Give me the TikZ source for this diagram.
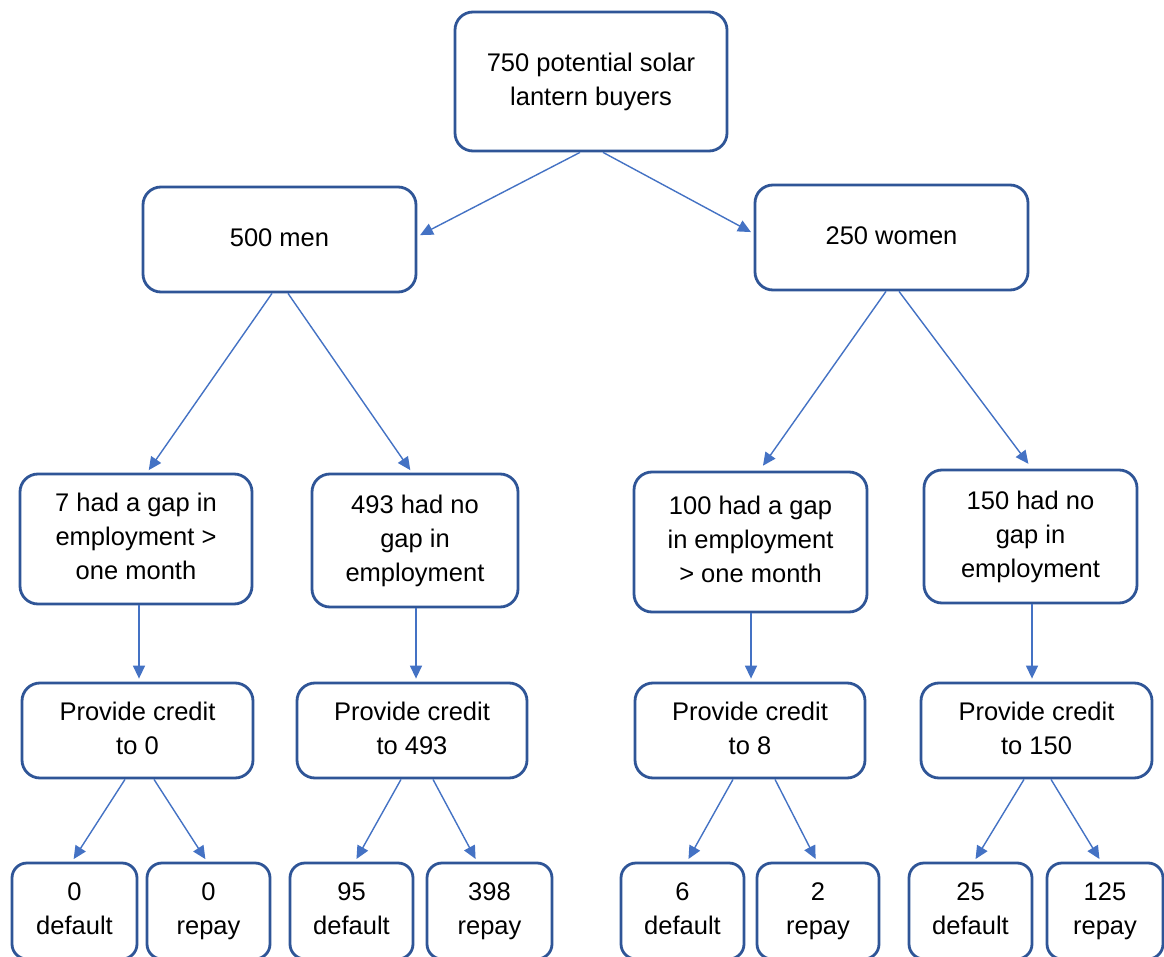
\documentclass[tikz,border=0pt]{standalone}
\usepackage{fontspec}
\setmainfont{Liberation Sans}
\usetikzlibrary{arrows.meta,calc}
\definecolor{boxblue}{RGB}{47,85,151}
\definecolor{arrblue}{RGB}{68,114,196}
\begin{document}
\begin{tikzpicture}[x=1pt,y=-1pt,
  box/.style={draw=boxblue, line width=2.8pt, rounded corners=18pt, fill=white, inner sep=0pt,
    align=center, font=\fontsize{25.5}{34}\selectfont, text=black},
  leaf/.style={box, rounded corners=15pt, minimum height=96pt},
  credit/.style={box, minimum height=95pt},
  arr/.style={draw=arrblue, line width=1.4pt, -{Triangle[length=13pt,width=12pt]}, shorten >=3pt}
]
\clip (0,0) rectangle (1164,957);
\fill[white] (0,0) rectangle (1164,957);

\node[box, minimum width=272pt, minimum height=139pt] (top) at (591,81.5) {\strut 750 potential solar\\\strut lantern buyers};
\node[box, minimum width=273pt, minimum height=105pt] (men) at (279.5,239.5) {\strut 500 men};
\node[box, minimum width=273pt, minimum height=105pt] (women) at (891.5,237.5) {\strut 250 women};

\node[box, minimum width=232pt, minimum height=130pt] (g7) at (136,539) {\strut 7 had a gap in\\\strut employment >\\\strut one month};
\node[box, minimum width=206pt, minimum height=133pt] (n493) at (415,540.5) {\strut 493 had no\\\strut gap in\\\strut employment};
\node[box, minimum width=233pt, minimum height=140pt] (g100) at (750.5,542) {\strut 100 had a gap\\\strut in employment\\\strut > one month};
\node[box, minimum width=213pt, minimum height=133pt] (n150) at (1030.5,536.5) {\strut 150 had no\\\strut gap in\\\strut employment};

\node[credit, minimum width=231pt] (c0) at (137.5,730.5) {\strut Provide credit\\\strut to 0};
\node[credit, minimum width=230pt] (c493) at (412,730.5) {\strut Provide credit\\\strut to 493};
\node[credit, minimum width=230pt] (c8) at (750,730.5) {\strut Provide credit\\\strut to 8};
\node[credit, minimum width=231pt] (c150) at (1036.5,730.5) {\strut Provide credit\\\strut to 150};

\node[leaf, minimum width=125pt] (d0) at (74.5,911) {\strut 0\\\strut default};
\node[leaf, minimum width=123pt] (r0) at (208.5,911) {\strut 0\\\strut repay};
\node[leaf, minimum width=123pt] (d95) at (351.5,911) {\strut 95\\\strut default};
\node[leaf, minimum width=125pt] (r398) at (489.5,911) {\strut 398\\\strut repay};
\node[leaf, minimum width=123pt] (d6) at (682.5,911) {\strut 6\\\strut default};
\node[leaf, minimum width=122pt] (r2) at (818,911) {\strut 2\\\strut repay};
\node[leaf, minimum width=123pt] (d25) at (970.5,911) {\strut 25\\\strut default};
\node[leaf, minimum width=116pt] (r125) at (1105,911) {\strut 125\\\strut repay};

% level 1
\draw[arr] ([xshift=-11pt]top.south) -- ([yshift=3pt]men.east);
\draw[arr] ([xshift=12pt]top.south) -- ([yshift=4pt]women.west);
% level 2
\draw[arr] ([xshift=-7.5pt]men.south) -- ([xshift=11pt]g7.north);
\draw[arr] ([xshift=8.5pt]men.south) -- ([xshift=-3pt]n493.north);
\draw[arr, shorten >=6pt] ([xshift=-5.5pt]women.south) -- ([xshift=9pt]g100.north);
\draw[arr, shorten >=6pt] ([xshift=7.5pt]women.south) -- ([xshift=1.5pt]n150.north);
% verticals
\coordinate (v1) at ([xshift=3pt]g7.south);
\coordinate (v2) at ([xshift=1pt]n493.south);
\coordinate (v3) at ([xshift=0.5pt]g100.south);
\coordinate (v4) at ([xshift=1.5pt]n150.south);
\draw[arr] (v1) -- (v1 |- c0.north);
\draw[arr] (v2) -- (v2 |- c493.north);
\draw[arr] (v3) -- (v3 |- c8.north);
\draw[arr] (v4) -- (v4 |- c150.north);
% leaves
\draw[arr] ([xshift=-12.5pt]c0.south) -- ([xshift=-2.5pt]d0.north);
\draw[arr] ([xshift=16.5pt]c0.south) -- ([xshift=-1.5pt]r0.north);
\draw[arr] ([xshift=-11pt]c493.south) -- ([xshift=3.5pt]d95.north);
\draw[arr] ([xshift=21pt]c493.south) -- ([xshift=-12.5pt]r398.north);
\draw[arr] ([xshift=-17pt]c8.south) -- ([xshift=4.5pt]d6.north);
\draw[arr] ([xshift=25pt]c8.south) -- ([xshift=-1pt]r2.north);
\draw[arr] ([xshift=-12.5pt]c150.south) -- ([xshift=3.5pt]d25.north);
\draw[arr] ([xshift=14.5pt]c150.south) -- ([xshift=-4pt]r125.north);
\end{tikzpicture}
\end{document}
